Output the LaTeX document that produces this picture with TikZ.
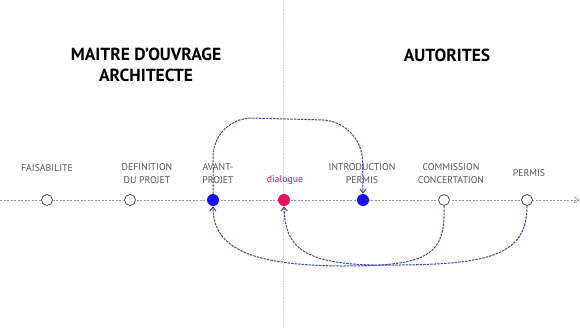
\documentclass[tikz,border=0pt]{standalone}
\usepackage{fontspec}
\setmainfont{PT Sans}
\usepackage{tikz}
\usetikzlibrary{arrows.meta}

\definecolor{inkblue}{HTML}{3A48A6}
\definecolor{dotblue}{HTML}{1414E6}
\definecolor{dotpink}{HTML}{E8125C}
\definecolor{txtgray}{HTML}{555555}

\tikzset{
  stage/.style={circle,draw=black!70,thick,fill=white,minimum size=11pt,inner sep=0pt},
  actif/.style={circle,fill=dotblue,minimum size=12pt,inner sep=0pt},
  phase/.style={text=txtgray,font=\fontsize{9.8}{13}\selectfont,align=center},
  titre/.style={font=\fontsize{17.5}{21}\selectfont\bfseries,align=center},
  link/.style={inkblue,line width=1pt,dash pattern=on 2.5pt off 1pt},
  tip/.style={-{Straight Barb[length=4pt,width=6pt]}}
}

\begin{document}
\begin{tikzpicture}[x=1pt,y=-1pt]
\useasboundingbox (0,0) rectangle (580,327);
% separation
\draw [gray!40, densely dotted, thick] (283,0) -- (283,327);
\node[titre] (mo) at (146,65) {MAITRE D'OUVRAGE\\ARCHITECTE};
\node[titre] (aut) at (447,55) {AUTORITES};
% ligne du temps
\coordinate (start) at (0,200);
\coordinate (end) at (579,200);
\draw [gray!80, line width=0.8pt, dash pattern=on 2pt off 1.5pt, tip] (start) -- (end);
\node[stage] (fais) at (47,200) {};
\node[stage] (def) at (130,200) {};
\node[actif] (avant) at (213,200) {};
\node[actif,fill=dotpink] (dial) at (284,200) {};
\node[actif] (intro) at (363,200) {};
\node[stage] (comm) at (444,200) {};
\node[stage] (perm) at (527,200) {};
% etiquettes
\node[phase] at (47,168) {FAISABILITE};
\node[phase] at (147,174) {DEFINITION\\DU PROJET};
\node[phase] at (218,174) {AVANT-\\PROJET};
\node[phase,text=dotpink] at (285,180) {dialogue};
\node[phase] at (362,174) {INTRODUCTION\\PERMIS};
\node[phase] at (451,174) {COMMISSION\\CONCERTATION};
\node[phase] at (529,173) {PERMIS};
% liens
\draw[link,tip,rounded corners=40pt] (avant.north) -- (213,117) -- (362,121) -- (intro.north);
\draw[link,tip] (comm.south) .. controls (446,258) and (425,266) .. (340,266) .. controls (255,265) and (213,250) .. (avant.south);
\draw[link,tip] (perm.south) .. controls (527,255) and (490,264) .. (400,265) .. controls (305,267) and (285,250) .. (dial.south);
\end{tikzpicture}
\end{document}
